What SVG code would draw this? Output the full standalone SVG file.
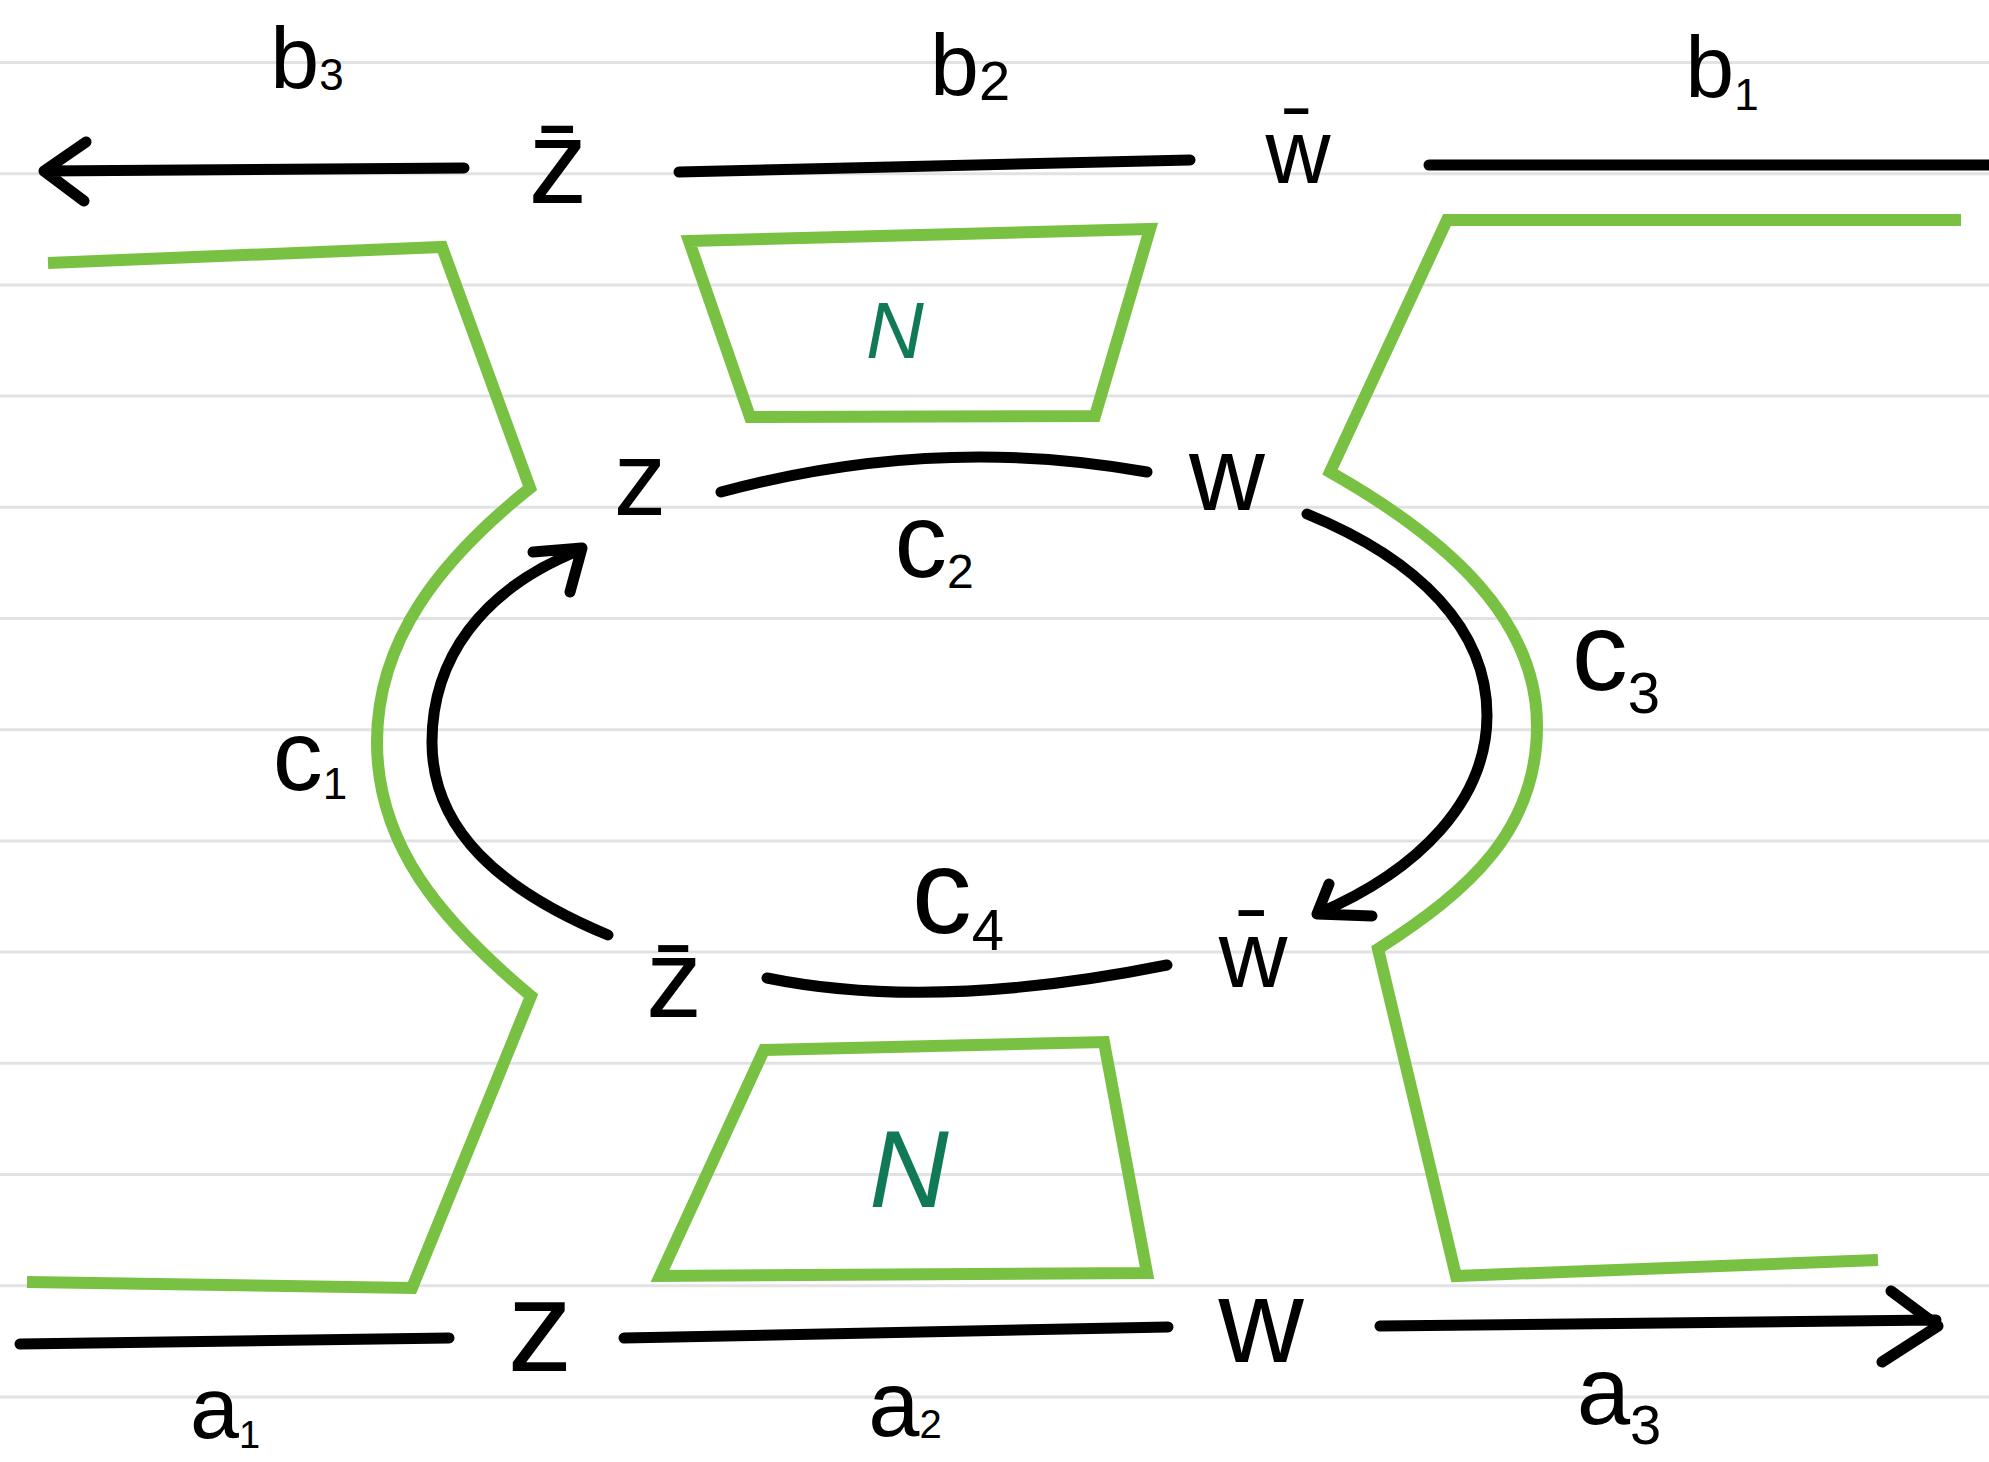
<svg xmlns="http://www.w3.org/2000/svg" width="1989" height="1462" viewBox="0 0 1989 1462">
<style>
.rule{stroke:#e2e2e2;stroke-width:3;fill:none}
.green{stroke:#79c142;stroke-width:12;fill:none;stroke-linejoin:miter;stroke-linecap:butt}
.conn{stroke:#000;stroke-width:11;fill:none;stroke-linecap:round;stroke-linejoin:round}
.lbl{font-family:"Liberation Sans","DejaVu Sans",sans-serif;fill:#000}
.nlbl{font-family:"Liberation Sans","DejaVu Sans",sans-serif;fill:#0f7a55;font-style:italic}
</style>
<rect x="0" y="0" width="1989" height="1462" fill="#ffffff"/>
<g id="paper">
<path class="rule" d="M0,62.5H1989M0,173.7H1989M0,284.9H1989M0,396.1H1989M0,507.3H1989M0,618.5H1989M0,729.7H1989M0,840.9H1989M0,952.1H1989M0,1063.3H1989M0,1174.5H1989M0,1285.7H1989M0,1396.9H1989"/>
</g>
<g id="boundary-left">
<path class="green" d="M48,263 L442,247 L530,488 C440,560 377,640 377,742 C377,845 440,920 531,996 L412,1288 L27,1282"/>
</g>
<g id="boundary-right">
<path class="green" d="M1961,220 L1447,220 L1330,472 C1450,540 1537,620 1537,726 C1537,830 1470,890 1378,949 L1456,1276 L1878,1260"/>
</g>
<g id="node-N-upper">
<path class="green" d="M689,241 L1150,229 L1095,416 L750,417 Z"/>
<text class="nlbl" x="895" y="358" font-size="80" text-anchor="middle">N</text>
</g>
<g id="node-N-lower">
<path class="green" d="M764,1050 L1104,1042 L1147,1273 L660,1276 Z"/>
<text class="nlbl" x="909" y="1207" font-size="110" text-anchor="middle">N</text>
</g>
<g id="connectors">
<path id="b3" class="conn" d="M464,168 L44,171 M86,142 L44,171 L84,201"/>
<path id="b2" class="conn" d="M679,172 L1190,160"/>
<path id="b1" class="conn" d="M1429,165 L1995,165"/>
<path id="c2" class="conn" d="M721,492 Q936,434 1147,472"/>
<path id="c1" class="conn" d="M608,935 C500,890 432,830 432,742 C432,660 480,590 580,550 M533,552 L582,548 L570,592"/>
<path id="c3" class="conn" d="M1307,514 C1420,560 1487,630 1487,715 C1487,800 1420,870 1317,914 M1329,884 L1317,914 L1372,916"/>
<path id="c4" class="conn" d="M767,978 Q933,1012 1167,965"/>
<path id="a1" class="conn" d="M20,1344 L449,1338"/>
<path id="a2" class="conn" d="M624,1338 L1168,1327"/>
<path id="a3" class="conn" d="M1380,1326 L1936,1320 M1891,1291 L1938,1326 L1882,1362"/>
</g>
<g id="labels">
<g id="lbl-b3"><text class="lbl" x="307" y="88" font-size="88" text-anchor="middle">b<tspan font-size="44" dy="2">3</tspan></text></g>
<g id="lbl-b2"><text class="lbl" x="970" y="95" font-size="88" text-anchor="middle">b<tspan font-size="56" dy="5">2</tspan></text></g>
<g id="lbl-b1"><text class="lbl" x="1722" y="97" font-size="88" text-anchor="middle">b<tspan font-size="44" dy="13">1</tspan></text></g>
<g id="lbl-zbar-top"><text class="lbl" x="558" y="203" font-size="118" text-anchor="middle">z&#x304;</text></g>
<g id="lbl-wbar-top"><text class="lbl" x="1298" y="183" font-size="90" text-anchor="middle">w&#x304;</text></g>
<g id="lbl-z-mid"><text class="lbl" x="640" y="515" font-size="105" text-anchor="middle">z</text></g>
<g id="lbl-w-mid"><text class="lbl" x="1227" y="510" font-size="105" text-anchor="middle">w</text></g>
<g id="lbl-c2"><text class="lbl" x="934" y="577" font-size="105" text-anchor="middle">c<tspan font-size="48" dy="11">2</tspan></text></g>
<g id="lbl-c1"><text class="lbl" x="310" y="790" font-size="100" text-anchor="middle">c<tspan font-size="44" dy="9">1</tspan></text></g>
<g id="lbl-c3"><text class="lbl" x="1616" y="690" font-size="112" text-anchor="middle">c<tspan font-size="58" dy="23">3</tspan></text></g>
<g id="lbl-c4"><text class="lbl" x="958" y="933" font-size="120" text-anchor="middle">c<tspan font-size="58" dy="17">4</tspan></text></g>
<g id="lbl-zbar-low"><text class="lbl" x="674" y="1017" font-size="112" text-anchor="middle">z&#x304;</text></g>
<g id="lbl-wbar-low"><text class="lbl" x="1253" y="987" font-size="95" text-anchor="middle">w&#x304;</text></g>
<g id="lbl-z-bot"><text class="lbl" x="540" y="1371" font-size="130" text-anchor="middle">z</text></g>
<g id="lbl-w-bot"><text class="lbl" x="1261" y="1362" font-size="118" text-anchor="middle">w</text></g>
<g id="lbl-a1"><text class="lbl" x="225" y="1438" font-size="88" text-anchor="middle">a<tspan font-size="38" dy="10">1</tspan></text></g>
<g id="lbl-a2"><text class="lbl" x="905" y="1436" font-size="92" text-anchor="middle">a<tspan font-size="40" dy="2">2</tspan></text></g>
<g id="lbl-a3"><text class="lbl" x="1619" y="1424" font-size="96" text-anchor="middle">a<tspan font-size="56" dy="20">3</tspan></text></g>
</g>
</svg>
